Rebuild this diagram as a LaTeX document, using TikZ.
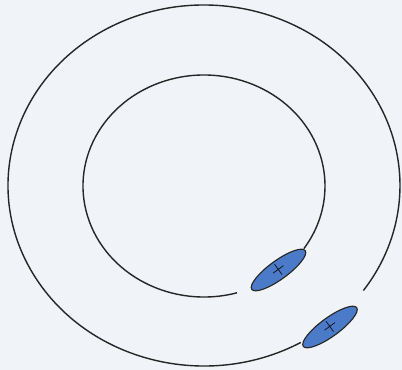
\documentclass[tikz,border=0pt]{standalone}
\usetikzlibrary{shapes.geometric}
\definecolor{paper}{RGB}{240,243,248}
\definecolor{ionblue}{RGB}{74,122,200}

\begin{document}
\begin{tikzpicture}[x=0.25mm, y=-0.25mm,
    ring/.style={draw=black!85, line width=1pt},
    ion/.style={ellipse, draw=black!85, fill=ionblue, line width=0.8pt, minimum width=16.5mm, minimum height=3.8mm, inner sep=0pt, rotate=36, font=\Large}
]
\fill[paper] (0,0) rectangle (402,370);
\useasboundingbox (0,0) rectangle (402,370);
% outer ring, open at lower right
\coordinate (co) at (204,185.5);
\draw[ring] (co) ++(60.4:196 and 180.5) arc[start angle=60.4, end angle=395.6, x radius=196, y radius=180.5];
% inner ring
\coordinate (ci) at (204,186);
\draw[ring] (ci) ++(74.2:121 and 111) arc[start angle=74.2, end angle=394.4, x radius=121, y radius=111];
% the two ions in the gaps
\node[ion] (ionin) at (278.5,270) {+};
\node[ion] (ionout) at (330,327) {+};
\end{tikzpicture}
\end{document}
